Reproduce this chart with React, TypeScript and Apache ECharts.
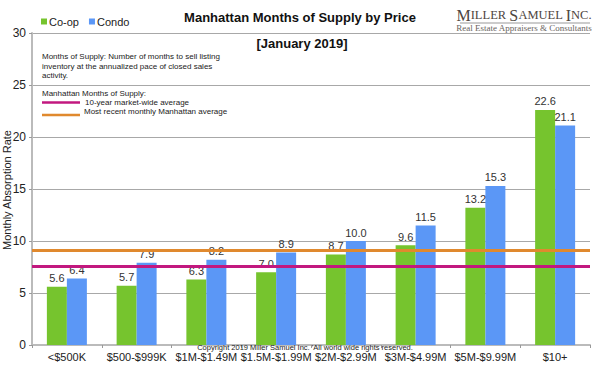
import React, { useEffect, useRef } from "react";
import * as echarts from "echarts";

const categories = ["<$500K", "$500-$999K", "$1M-$1.49M", "$1.5M-$1.99M", "$2M-$2.99M", "$3M-$4.99M", "$5M-$9.99M", "$10+"];
const coopValues = [5.6, 5.7, 6.3, 7.0, 8.7, 9.6, 13.2, 22.6];
const condoValues = [6.4, 7.9, 8.2, 8.9, 10.0, 11.5, 15.3, 21.1];
const tenYearAverage = 7.6;
const recentAverage = 9.1;

const GREEN = "#76c42e";
const BLUE = "#5b97f6";
const MAGENTA = "#c2187f";
const ORANGE = "#e0892e";
const FONT = "Liberation Sans, Arial, sans-serif";

export default function App() {
  const ref = useRef<HTMLDivElement>(null);
  useEffect(() => {
    if (!ref.current) return;
    const chart = echarts.init(ref.current, null, { renderer: "svg" });
    const labelCfg = {
      show: true,
      position: "top",
      distance: 3,
      fontSize: 11,
      color: "#333",
      fontFamily: FONT,
      formatter: (p: any) => Number(p.value).toFixed(1),
    };
    chart.setOption({
      animation: false,
      textStyle: { fontFamily: FONT },
      grid: { left: 32, right: 10, top: 33, bottom: 30, containLabel: false, outerBoundsMode: "none" },
      legend: {
        left: 36,
        top: 11,
        itemWidth: 6,
        itemHeight: 6,
        itemGap: 10,
        icon: "rect",
        textStyle: { fontSize: 11, color: "#222", fontFamily: FONT, padding: [0, 0, 0, -3] },
        data: ["Co-op", "Condo"],
      },
      xAxis: {
        type: "category",
        data: categories,
        axisLine: { lineStyle: { color: "#bbbbbb", width: 2 } },
        axisTick: { show: true, length: 3, lineStyle: { color: "#999" } },
        axisLabel: { fontSize: 11, color: "#222", margin: 6, interval: 0, fontFamily: FONT },
      },
      yAxis: {
        type: "value",
        min: 0,
        max: 30,
        interval: 5,
        axisLine: { show: true, lineStyle: { color: "#bbbbbb", width: 2 } },
        axisTick: { show: true, length: 3, lineStyle: { color: "#999" } },
        axisLabel: { fontSize: 12, color: "#222", margin: 6, fontFamily: FONT },
        splitLine: { lineStyle: { color: "#a8a8a8", width: 1 } },
      },
      series: [
        {
          name: "Co-op",
          type: "bar",
          data: coopValues,
          barWidth: 20,
          barGap: "0%",
          itemStyle: { color: GREEN },
          label: labelCfg,
          markLine: {
            silent: true,
            symbol: ["none", "none"],
            label: { show: false },
            data: [
              { yAxis: tenYearAverage, lineStyle: { color: MAGENTA, width: 3, type: "solid" } },
              { yAxis: recentAverage, lineStyle: { color: ORANGE, width: 3, type: "solid" } },
            ],
          },
        },
        {
          name: "Condo",
          type: "bar",
          data: condoValues,
          barWidth: 20,
          itemStyle: { color: BLUE },
          label: labelCfg,
        },
      ],
      graphic: [
        {
          type: "text",
          x: 7,
          y: 190,
          rotation: Math.PI / 2,
          style: { text: "Monthly Absorption Rate", font: `11px ${FONT}`, fill: "#222", align: "center", verticalAlign: "middle" },
        },
        {
          type: "text",
          x: 300,
          y: 17,
          style: { text: "Manhattan Months of Supply by Price", font: `bold 13px ${FONT}`, fill: "#111", align: "center", verticalAlign: "middle" },
        },
        {
          type: "text",
          x: 302,
          y: 43,
          style: { text: "[January 2019]", font: `bold 13px ${FONT}`, fill: "#111", align: "center", verticalAlign: "middle" },
        },
        {
          type: "text",
          x: 524,
          y: 15,
          style: {
            text: "{b|M}{s|ILLER }{b|S}{s|AMUEL }{b|I}{s|NC.}",
            align: "center",
            verticalAlign: "middle",
            rich: {
              b: { fontFamily: "Liberation Serif, Times New Roman, serif", fontSize: 16, fill: "#4e4540" },
              s: { fontFamily: "Liberation Serif, Times New Roman, serif", fontSize: 12.5, fill: "#4e4540" },
            },
          },
        },
        {
          type: "line",
          shape: { x1: 460, y1: 23, x2: 590, y2: 23 },
          style: { stroke: "#999", lineWidth: 1 },
        },
        {
          type: "text",
          x: 524,
          y: 28,
          style: {
            text: "Real Estate Appraisers & Consultants",
            font: `9px Liberation Serif, Times New Roman, serif`,
            fill: "#6a6460",
            align: "center",
            verticalAlign: "middle",
          },
        },
        {
          type: "text",
          x: 42,
          y: 52,
          style: {
            text: "Months of Supply: Number of months to sell listing\ninventory at the annualized pace of closed sales\nactivity.",
            font: `8px ${FONT}`,
            lineHeight: 9.5,
            fill: "#222",
          },
        },
        {
          type: "text",
          x: 42,
          y: 93,
          style: { text: "Manhattan Months of Supply:", font: `8px ${FONT}`, fill: "#222", verticalAlign: "middle" },
        },
        {
          type: "line",
          shape: { x1: 42, y1: 102.5, x2: 80, y2: 102.5 },
          style: { stroke: MAGENTA, lineWidth: 2.5 },
        },
        {
          type: "line",
          shape: { x1: 42, y1: 115, x2: 80, y2: 115 },
          style: { stroke: ORANGE, lineWidth: 2.5 },
        },
        {
          type: "text",
          x: 85,
          y: 102.5,
          style: { text: "10-year market-wide average", font: `8px ${FONT}`, fill: "#222", verticalAlign: "middle" },
        },
        {
          type: "text",
          x: 84,
          y: 111.7,
          style: { text: "Most recent monthly Manhattan average", font: `8px ${FONT}`, fill: "#222", verticalAlign: "middle" },
        },
        {
          type: "text",
          x: 305,
          y: 347,
          style: {
            text: "Copyright 2019 Miller Samuel Inc. 'All world wide rights reserved.",
            font: `7.5px ${FONT}`,
            fill: "#222",
            align: "center",
            verticalAlign: "middle",
          },
          z: 10,
        },
      ],
    });
    return () => chart.dispose();
  }, []);
  return <div ref={ref} style={{ position: "absolute", left: 0, top: 0, width: 600, height: 375 }} />;
}
